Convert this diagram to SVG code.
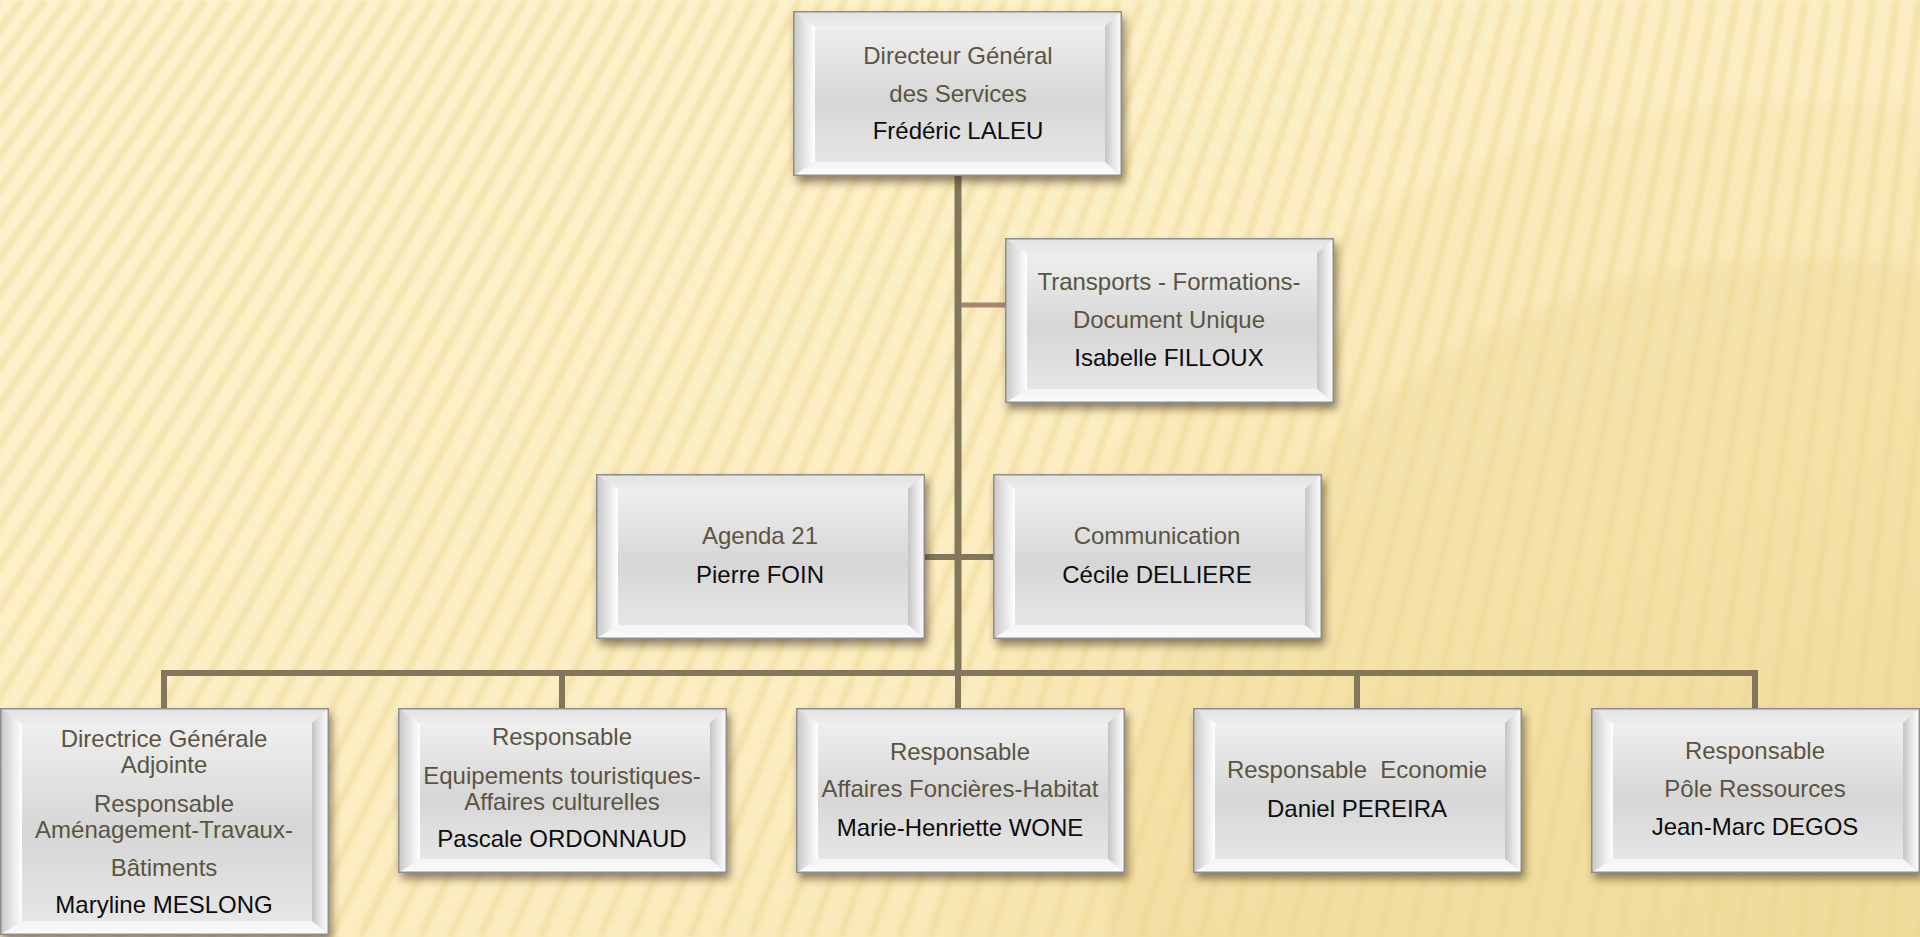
<svg xmlns="http://www.w3.org/2000/svg" xmlns:xlink="http://www.w3.org/1999/xlink" width="1920" height="937" viewBox="0 0 1920 937">
<style>
.t{font-family:"Liberation Sans",Arial,sans-serif;font-size:24px;text-anchor:middle;fill:#5b5443}
.n{fill:#0d0d0d}
.c{fill:none;stroke:#82775a;stroke-width:6;stroke-linecap:butt}
.stripes{fill:none;stroke:#eed592;stroke-width:7;stroke-opacity:.5}
.sh{filter:url(#shadow)}
</style>
<defs>
<linearGradient id="bg" x1="0" y1="0" x2="1" y2="1">
<stop offset="0" stop-color="#fdf3cf"/>
<stop offset="0.6" stop-color="#fbedc0"/>
<stop offset="1" stop-color="#f5e1a6"/>
</linearGradient>
<filter id="blur" x="-5%" y="-5%" width="110%" height="110%"><feGaussianBlur stdDeviation="2"/></filter>
<filter id="soft" x="-20%" y="-20%" width="140%" height="140%"><feGaussianBlur stdDeviation="6"/></filter>
<filter id="shadow" x="-10%" y="-10%" width="125%" height="130%">
<feDropShadow dx="3" dy="6" stdDeviation="4" flood-color="#3a2c10" flood-opacity="0.55"/>
</filter>
<linearGradient id="gTop" x1="0" y1="0" x2="0" y2="1"><stop offset="0" stop-color="#e2e2e2"/><stop offset="1" stop-color="#ececec"/></linearGradient>
<linearGradient id="gLeft" x1="0" y1="0" x2="1" y2="0"><stop offset="0" stop-color="#c6c6c6"/><stop offset="0.45" stop-color="#e0e0e0"/><stop offset="1" stop-color="#ffffff"/></linearGradient>
<linearGradient id="gRight" x1="0" y1="0" x2="1" y2="0"><stop offset="0" stop-color="#c4c4c4"/><stop offset="0.5" stop-color="#e6e6e6"/><stop offset="1" stop-color="#ffffff"/></linearGradient>
<linearGradient id="gBot" x1="0" y1="0" x2="0" y2="1"><stop offset="0" stop-color="#f4f4f4"/><stop offset="1" stop-color="#fbfbfb"/></linearGradient>
<linearGradient id="gFace" x1="0" y1="0" x2="0" y2="1"><stop offset="0" stop-color="#efefef"/><stop offset="0.55" stop-color="#d6d6d6"/><stop offset="1" stop-color="#e6e6e6"/></linearGradient>
<symbol id="bx" viewBox="0 0 329 165">
<rect x="0" y="0" width="329" height="165" fill="#dcdcdc"/>
<polygon points="0,0 329,0 312,15 22,15" fill="url(#gTop)"/>
<polygon points="0,0 22,15 22,151 0,165" fill="url(#gLeft)"/>
<polygon points="329,0 329,165 312,151 312,15" fill="url(#gRight)"/>
<polygon points="0,165 22,151 312,151 329,165" fill="url(#gBot)"/>
<rect x="22" y="15" width="290" height="136" fill="url(#gFace)"/>
<rect x="0.75" y="0.75" width="327.5" height="163.5" fill="none" stroke="#8e8e8e" stroke-width="1.5"/>
</symbol>
<symbol id="bxT" viewBox="0 0 329 227">
<rect x="0" y="0" width="329" height="227" fill="#dcdcdc"/>
<polygon points="0,0 329,0 312,15 22,15" fill="url(#gTop)"/>
<polygon points="0,0 22,15 22,213 0,227" fill="url(#gLeft)"/>
<polygon points="329,0 329,227 312,213 312,15" fill="url(#gRight)"/>
<polygon points="0,227 22,213 312,213 329,227" fill="url(#gBot)"/>
<rect x="22" y="15" width="290" height="198" fill="url(#gFace)"/>
<rect x="0.75" y="0.75" width="327.5" height="225.5" fill="none" stroke="#8e8e8e" stroke-width="1.5"/>
</symbol>
</defs>

<g id="background">
<rect x="0" y="0" width="1920" height="937" fill="url(#bg)"/>
<circle cx="1800" cy="950" r="850" fill="#e9cd7e" fill-opacity="0.12" filter="url(#soft)"/>
<circle cx="1800" cy="950" r="693" fill="#e2c56f" fill-opacity="0.16" filter="url(#soft)"/>
<path class="stripes" filter="url(#blur)" d="M-1,0L-720,937M21.9,0L-690,937M44.7,0L-660,937M67.6,0L-630,937M90.4,0L-600,937M113.3,0L-570,937M136.2,0L-540,937M159,0L-510,937M181.9,0L-480,937M204.7,0L-450,937M227.6,0L-420,937M250.5,0L-390,937M273.3,0L-360,937M296.2,0L-330,937M319,0L-300,937M341.9,0L-270,937M364.8,0L-240,937M387.6,0L-210,937M410.5,0L-180,937M433.3,0L-150,937M456.2,0L-120,937M479.1,0L-90,937M501.9,0L-60,937M524.8,0L-30,937M547.6,0L0,937M570.5,0L30,937M593.4,0L60,937M616.2,0L90,937M639.1,0L120,937M661.9,0L150,937M684.8,0L180,937M707.7,0L210,937M730.5,0L240,937M753.4,0L270,937M776.2,0L300,937M799.1,0L330,937M822,0L360,937M844.8,0L390,937M867.7,0L420,937M890.5,0L450,937M913.4,0L480,937M936.3,0L510,937M959.1,0L540,937M982,0L570,937M1004.8,0L600,937M1027.7,0L630,937M1050.6,0L660,937M1073.4,0L690,937M1096.3,0L720,937M1119.1,0L750,937M1142,0L780,937M1164.9,0L810,937M1187.7,0L840,937M1210.6,0L870,937M1233.4,0L900,937M1256.3,0L930,937M1279.2,0L960,937M1302,0L990,937M1324.9,0L1020,937M1347.7,0L1050,937M1370.6,0L1080,937M1393.5,0L1110,937M1416.3,0L1140,937M1439.2,0L1170,937M1462,0L1200,937M1484.9,0L1230,937M1507.8,0L1260,937M1530.6,0L1290,937M1553.5,0L1320,937M1576.3,0L1350,937M1599.2,0L1380,937M1622.1,0L1410,937M1644.9,0L1440,937M1667.8,0L1470,937M1690.6,0L1500,937M1713.5,0L1530,937M1736.4,0L1560,937M1759.2,0L1590,937M1782.1,0L1620,937M1804.9,0L1650,937M1827.8,0L1680,937M1850.7,0L1710,937M1873.5,0L1740,937M1896.4,0L1770,937M1919.2,0L1800,937M1942.1,0L1830,937M1965,0L1860,937M1987.8,0L1890,937M2010.7,0L1920,937"/>
</g>

<g id="connectors">
<path class="c" d="M958,176V673" style="stroke-width:7"/>
<path class="c" d="M164,673H1755"/>
<path class="c" d="M164,670V708M562,670V708M958,670V708M1357,670V708M1755,670V708"/>
<path class="c" d="M924,557H993"/>
<path class="c" d="M961,305H1005" style="stroke:#a98572;stroke-width:5"/>
</g>

<g id="n-dgs">
<use href="#bx" xlink:href="#bx" class="sh" x="793" y="11" width="329" height="165"/>
<text class="t"><tspan x="958" y="64">Directeur Général</tspan><tspan x="958" y="102">des Services</tspan><tspan class="n" x="958" y="139">Frédéric LALEU</tspan></text>
</g>

<g id="n-transports">
<use href="#bx" xlink:href="#bx" class="sh" x="1005" y="238" width="329" height="165"/>
<text class="t"><tspan x="1169" y="290">Transports - Formations-</tspan><tspan x="1169" y="328">Document Unique</tspan><tspan class="n" x="1169" y="366">Isabelle FILLOUX</tspan></text>
</g>

<g id="n-agenda">
<use href="#bx" xlink:href="#bx" class="sh" x="596" y="474" width="329" height="165"/>
<text class="t"><tspan x="760" y="544">Agenda 21</tspan><tspan class="n" x="760" y="583">Pierre FOIN</tspan></text>
</g>

<g id="n-communication">
<use href="#bx" xlink:href="#bx" class="sh" x="993" y="474" width="329" height="165"/>
<text class="t"><tspan x="1157" y="544">Communication</tspan><tspan class="n" x="1157" y="583">Cécile DELLIERE</tspan></text>
</g>

<g id="n-dga">
<use href="#bxT" xlink:href="#bxT" class="sh" x="0" y="708" width="329" height="227"/>
<text class="t"><tspan x="164" y="747">Directrice Générale</tspan><tspan x="164" y="773">Adjointe</tspan><tspan x="164" y="812">Responsable</tspan><tspan x="164" y="838">Aménagement-Travaux-</tspan><tspan x="164" y="876">Bâtiments</tspan><tspan class="n" x="164" y="913">Maryline MESLONG</tspan></text>
</g>

<g id="n-equipements">
<use href="#bx" xlink:href="#bx" class="sh" x="398" y="708" width="329" height="165"/>
<text class="t"><tspan x="562" y="745">Responsable</tspan><tspan x="562" y="784">Equipements touristiques-</tspan><tspan x="562" y="810">Affaires culturelles</tspan><tspan class="n" x="562" y="847">Pascale ORDONNAUD</tspan></text>
</g>

<g id="n-foncier">
<use href="#bx" xlink:href="#bx" class="sh" x="796" y="708" width="329" height="165"/>
<text class="t"><tspan x="960" y="760">Responsable</tspan><tspan x="960" y="797">Affaires Foncières-Habitat</tspan><tspan class="n" x="960" y="836">Marie-Henriette WONE</tspan></text>
</g>

<g id="n-economie">
<use href="#bx" xlink:href="#bx" class="sh" x="1193" y="708" width="329" height="165"/>
<text class="t" xml:space="preserve"><tspan x="1357" y="778">Responsable  Economie</tspan><tspan class="n" x="1357" y="817">Daniel PEREIRA</tspan></text>
</g>

<g id="n-ressources">
<use href="#bx" xlink:href="#bx" class="sh" x="1591" y="708" width="329" height="165"/>
<text class="t"><tspan x="1755" y="759">Responsable</tspan><tspan x="1755" y="797">Pôle Ressources</tspan><tspan class="n" x="1755" y="835">Jean-Marc DEGOS</tspan></text>
</g>
</svg>
